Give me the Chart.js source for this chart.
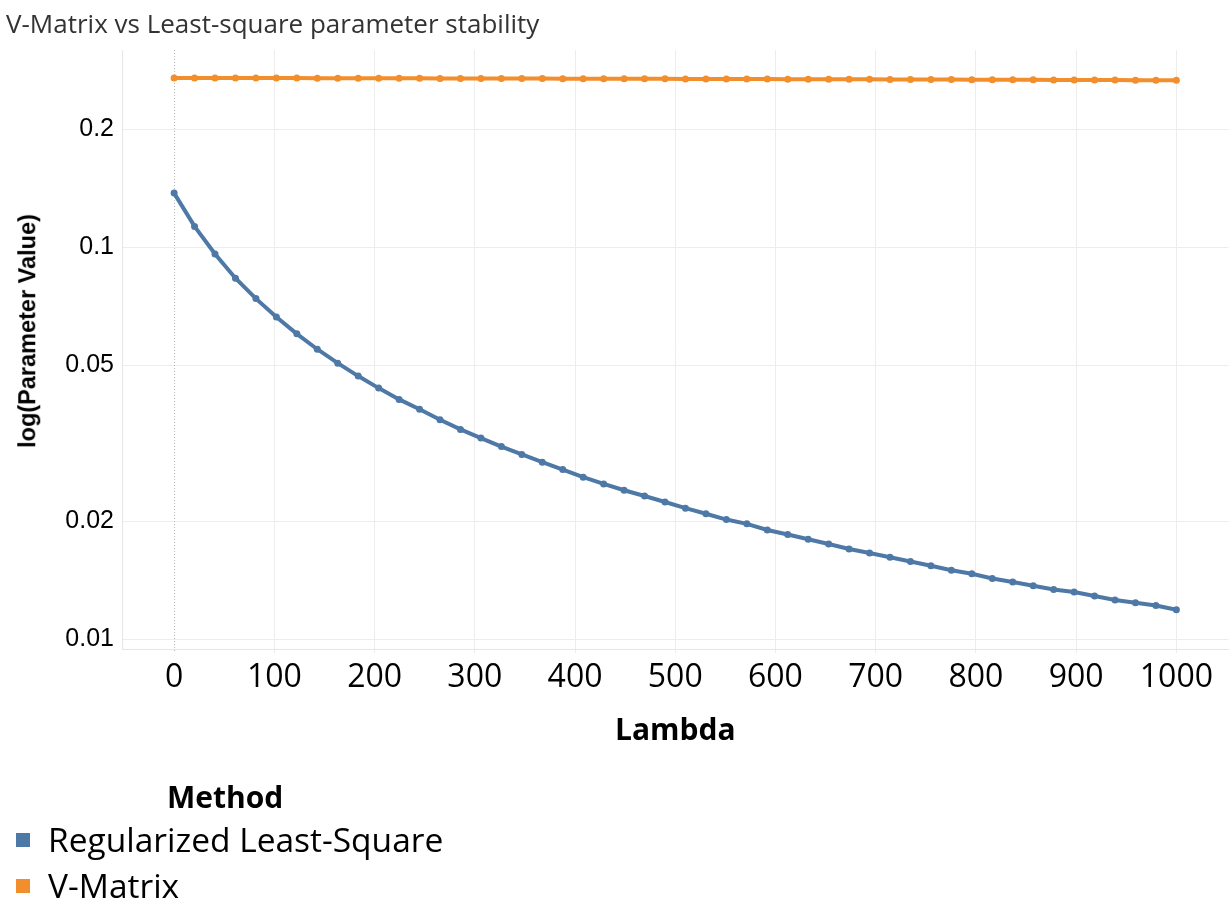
<!DOCTYPE html>
<html>
<head>
<meta charset="utf-8">
<script src="https://cdn.jsdelivr.net/npm/chart.js@4.4.1/dist/chart.umd.min.js"></script>
<style>
  html, body { margin:0; padding:0; background:#fff; }
  #wrap { position:relative; width:1232px; height:909px; overflow:hidden; }
  #chartBox { position:absolute; left:0; top:0; width:1232px; height:909px; }
  .txt { position:absolute; white-space:nowrap; line-height:1; }
  #title { left:6px; top:10px; font-family:"Open Sans", sans-serif; font-size:26px; color:#333; }
  #ytitle { left:28px; top:331px; font-family:"Liberation Sans", Arial, sans-serif; font-weight:bold; font-size:23.5px; color:#000;
            transform: translate(-50%,-50%) rotate(-90deg); }
  #legTitle { left:167px; top:782px; font-family:"Open Sans", sans-serif; font-weight:bold; font-size:30px; color:#000; }
  .legSw { position:absolute; left:16px; width:14px; height:14px; }
  .legTx { position:absolute; left:48px; font-family:"Open Sans", sans-serif; font-size:33.5px; color:#000; white-space:nowrap; line-height:1; }
</style>
</head>
<body>
<div id="wrap">
  <div id="chartBox"><canvas id="c"></canvas></div>
  <div id="title" class="txt"></div>
  <div id="ytitle" class="txt"></div>
  <div id="legTitle" class="txt"></div>
  <div id="legend"></div>
</div>
<script>
const chartTitle = "V-Matrix vs Least-square parameter stability";
const legendTitle = "Method";
const xAxisTitle = "Lambda";
const yAxisTitle = "log(Parameter Value)";

const lambdaValues = [0,20.41,40.82,61.22,81.63,102.04,122.45,142.86,163.27,183.67,
  204.08,224.49,244.90,265.31,285.71,306.12,326.53,346.94,367.35,387.76,
  408.16,428.57,448.98,469.39,489.80,510.20,530.61,551.02,571.43,591.84,
  612.24,632.65,653.06,673.47,693.88,714.29,734.69,755.10,775.51,795.92,
  816.33,836.73,857.14,877.55,897.96,918.37,938.78,959.18,979.59,1000];

const seriesNames = ["Regularized Least-Square", "V-Matrix"];
const seriesColors = ["#4e79a7", "#f28e2b"];

const rlsValues = [0.1373,0.1129,0.0960,0.0833,0.0739,0.0663,0.0601,0.0549,0.0506,0.0469,
  0.0437,0.0409,0.0386,0.0363,0.0343,0.0326,0.0310,0.0296,0.0283,0.0271,
  0.0259,0.0249,0.0240,0.0232,0.0224,0.0216,0.0209,0.0202,0.0197,0.0190,
  0.0185,0.0180,0.0175,0.0170,0.0166,0.0162,0.0158,0.0154,0.0150,0.0147,
  0.0143,0.0140,0.0137,0.0134,0.0132,0.0129,0.0126,0.0124,0.0122,0.0119];

const vmValues = [0.2700,0.2699,0.2699,0.2698,0.2698,0.2697,0.2697,0.2696,0.2696,0.2695,
  0.2694,0.2694,0.2693,0.2692,0.2692,0.2691,0.2690,0.2690,0.2689,0.2688,
  0.2688,0.2687,0.2686,0.2685,0.2685,0.2684,0.2683,0.2682,0.2682,0.2681,
  0.2680,0.2679,0.2678,0.2677,0.2677,0.2676,0.2675,0.2674,0.2673,0.2672,
  0.2671,0.2670,0.2669,0.2668,0.2667,0.2666,0.2665,0.2664,0.2663,0.2662];

const xTicks = [0,100,200,300,400,500,600,700,800,900,1000];
const yTicks = [0.01,0.02,0.05,0.1,0.2];

document.getElementById('title').textContent = chartTitle;
document.getElementById('ytitle').textContent = yAxisTitle;
document.getElementById('legTitle').textContent = legendTitle;

// legend
const legend = document.getElementById('legend');
const legTops = [833, 879];
seriesNames.forEach((n, i) => {
  const sw = document.createElement('div');
  sw.className = 'legSw';
  sw.style.top = legTops[i] + 'px';
  sw.style.background = seriesColors[i];
  legend.appendChild(sw);
  const tx = document.createElement('div');
  tx.className = 'legTx';
  tx.style.top = (legTops[i] - 10.5) + 'px';
  tx.textContent = n;
  legend.appendChild(tx);
});

function toPoints(ys) { return lambdaValues.map((x, i) => ({x: x, y: ys[i]})); }

const zeroLine = {
  id: 'zeroLine',
  beforeDatasetsDraw(chart) {
    const xs = chart.scales.x, a = chart.chartArea, ctx = chart.ctx;
    const px = Math.round(xs.getPixelForValue(0)) + 0.5;
    ctx.save();
    ctx.strokeStyle = '#b8b8b8';
    ctx.lineWidth = 1;
    ctx.setLineDash([1, 2]);
    ctx.beginPath();
    ctx.moveTo(px, a.top);
    ctx.lineTo(px, a.bottom + 4);
    ctx.stroke();
    ctx.restore();
  }
};

new Chart(document.getElementById('c'), {
  type: 'scatter',
  data: {
    datasets: seriesNames.map((n, i) => ({
      label: n,
      data: toPoints(i === 0 ? rlsValues : vmValues),
      showLine: true,
      borderColor: seriesColors[i],
      backgroundColor: seriesColors[i],
      borderWidth: 4,
      pointRadius: 3.5,
      pointHoverRadius: 3.5,
      pointBorderWidth: 0,
      tension: 0
    }))
  },
  options: {
    responsive: true,
    maintainAspectRatio: false,
    animation: false,
    layout: { padding: { top: 50, left: 0, right: 0, bottom: 160 } },
    plugins: { legend: { display: false }, title: { display: false }, tooltip: { enabled: false } },
    scales: {
      x: {
        type: 'linear',
        min: -52, max: 1052,
        afterBuildTicks: s => { s.ticks = xTicks.map(v => ({value: v})); },
        afterFit: s => { s.height = 100; },
        grid: {
          color: ctx => (ctx.tick && ctx.tick.value === 0) ? 'rgba(0,0,0,0)' : '#ededed',
          tickColor: ctx => (ctx.tick && ctx.tick.value === 0) ? 'rgba(0,0,0,0)' : '#ededed',
          lineWidth: 1,
          drawTicks: true,
          tickLength: 4
        },
        border: { display: true, color: '#e6e6e6', width: 1 },
        ticks: {
          color: '#000',
          font: { family: 'Open Sans', size: 32 },
          padding: 6,
          maxRotation: 0,
          callback: v => String(v)
        },
        title: {
          display: true,
          text: xAxisTitle,
          color: '#000',
          font: { family: 'Open Sans', size: 30, weight: 'bold', lineHeight: 1.2 },
          padding: { top: 0, bottom: 0 }
        }
      },
      y: {
        type: 'logarithmic',
        min: 0.00945, max: 0.318,
        afterBuildTicks: s => { s.ticks = yTicks.map(v => ({value: v})); },
        afterFit: s => { s.width = 122; },
        grid: { color: '#ededed', lineWidth: 1, drawTicks: false },
        border: { display: true, color: '#e6e6e6', width: 1 },
        ticks: {
          color: '#000',
          font: { family: 'Liberation Sans', size: 25 },
          padding: 8,
          callback: v => String(v)
        }
      }
    }
  },
  plugins: [zeroLine]
});
</script>
</body>
</html>
